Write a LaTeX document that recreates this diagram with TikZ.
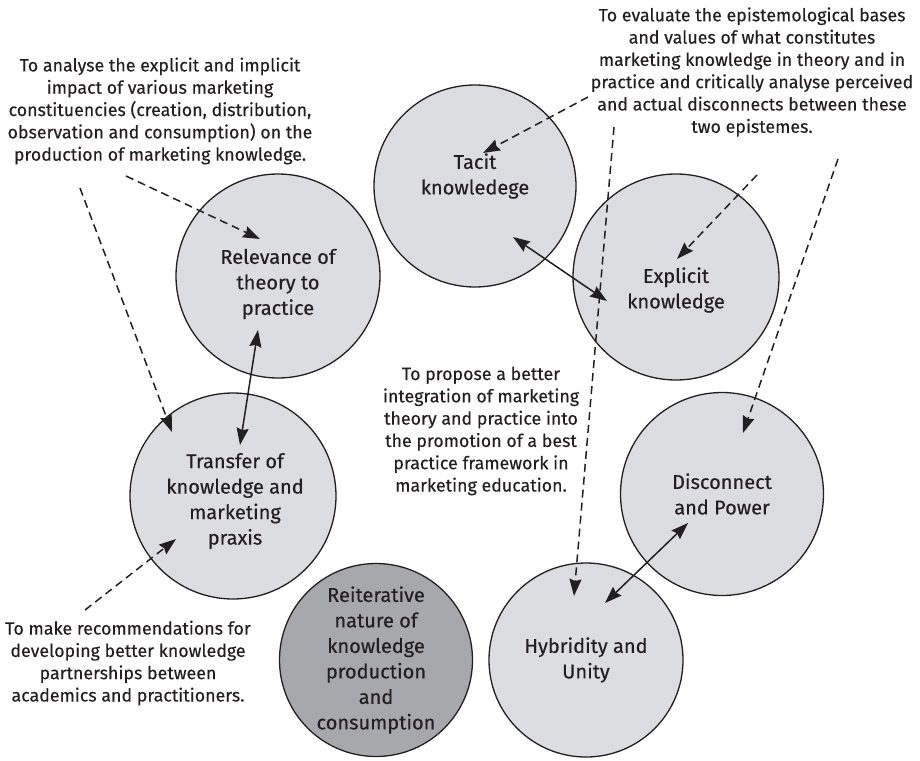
\documentclass[tikz,border=0pt]{standalone}
\usepackage{fontspec}
\setmainfont{Fira Sans}[FakeBold=0.3]
\usetikzlibrary{arrows.meta}
\definecolor{bubblefill}{HTML}{DCDDE0}
\definecolor{bubbledark}{HTML}{A7A8AB}
\definecolor{ink}{HTML}{231F20}
\tikzset{
  bubble/.style={circle,draw=ink,line width=1.3pt,fill=bubblefill,inner sep=0pt,minimum size=#1},
  darkbubble/.style={bubble=#1,fill=bubbledark},
  bubbletext/.style={align=center,text=ink,inner sep=0pt,font=\fontsize{20}{25.5}\selectfont},
  note/.style={align=center,text=ink,inner sep=0pt,font=\fontsize{17.8}{22.3}\selectfont},
  link/.style={draw=ink,line width=1.5pt,{Stealth[length=17pt,width=12pt,inset=2pt]}-{Stealth[length=17pt,width=12pt,inset=2pt]}},
  pointer/.style={draw=ink,line width=1.5pt,dash pattern=on 8pt off 5pt,-{Stealth[length=17pt,width=12pt,inset=2pt]}}
}
\begin{document}
\begin{tikzpicture}[x=1pt,y=-1pt]
\useasboundingbox (0,0) rectangle (920,760);

% circles
\node[bubble=202pt] (tacit) at (475,186) {};
\node[bubble=206pt] (explicit) at (676,277) {};
\node[bubble=203pt] (disc) at (722,494) {};
\node[bubble=194pt] (hyb) at (586,660) {};
\node[darkbubble=193pt] (reit) at (376,660) {};
\node[bubble=206pt] (transfer) at (233,496) {};
\node[bubble=204pt] (rel) at (278,276) {};

% arrow end points
\coordinate (tk1) at (513,237);
\coordinate (ex1) at (607,301);
\coordinate (rl1) at (258,330);
\coordinate (tr1) at (240,445);
\coordinate (hy1) at (605,603);
\coordinate (dp1) at (688,523);

\coordinate (a1s) at (126,176);
\coordinate (a1e) at (260,239);
\coordinate (a2s) at (80,188);
\coordinate (a2e) at (172,432);
\coordinate (a3s) at (85,610);
\coordinate (a3e) at (176,539);
\coordinate (a4s) at (588,97);
\coordinate (a4e) at (483,153);
\coordinate (a5s) at (757,175);
\coordinate (a5e) at (677,259);
\coordinate (a6s) at (838,159);
\coordinate (a6e) at (743,433);
\coordinate (a7s) at (614,127);
\coordinate (a7e) at (574,596);

% two-way links between themes
\draw[link] (tk1) -- (ex1);
\draw[link] (rl1) -- (tr1);
\draw[link] (hy1) -- (dp1);

% aims pointing at themes
\draw[pointer] (a1s) -- (a1e);
\draw[pointer] (a2s) -- (a2e);
\draw[pointer] (a3s) -- (a3e);
\draw[pointer] (a4s) -- (a4e);
\draw[pointer] (a5s) -- (a5e);
\draw[pointer] (a6s) -- (a6e);
\draw[pointer] (a7s) -- (a7e);

% theme labels
\node[bubbletext] (tacit-t) at (475,176) {Tacit\\knowledege};
\node[bubbletext] (explicit-t) at (676,290) {Explicit\\knowledge};
\node[bubbletext] (disc-t) at (722,494) {Disconnect\\and Power};
\node[bubbletext] (hyb-t) at (586,660) {Hybridity and\\Unity};
\node[bubbletext] (reit-t) at (376,660) {Reiterative\\nature of\\knowledge\\production\\and\\consumption};
\node[bubbletext] (transfer-t) at (235,501) {Transfer of\\knowledge and\\marketing\\praxis};
\node[bubbletext] (rel-t) at (278,284) {Relevance of\\theory to\\practice};

% aims
\node[note] (aim1) at (160,111) {To analyse the explicit and implicit\\impact of various marketing\\constituencies (creation, distribution,\\observation and consumption) on the\\production of marketing knowledge.};
\node[note] (aim2) at (752,72) {To evaluate the epistemological bases\\and values of what constitutes\\marketing knowledge in theory and in\\practice and critically analyse perceived\\and actual disconnects between these\\two epistemes.};
\node[note] (aim3) at (481,431) {To propose a better\\integration of marketing\\theory and practice into\\the promotion of a best\\practice framework in\\marketing education.};
\node[note] (aim4) at (128,663) {To make recommendations for\\developing better knowledge\\partnerships between\\academics and practitioners.};
\end{tikzpicture}
\end{document}
